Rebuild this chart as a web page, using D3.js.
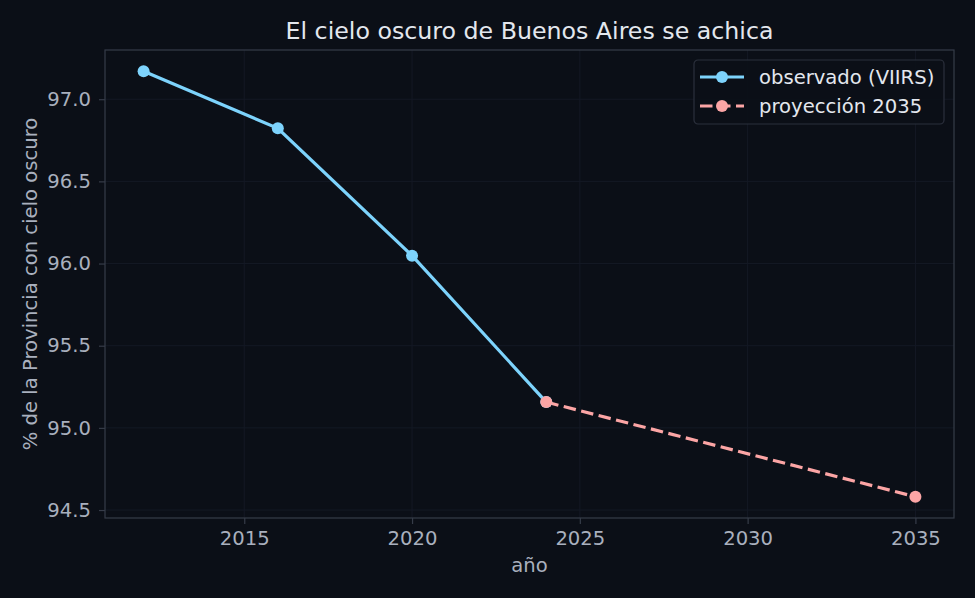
<!DOCTYPE html>
<html>
<head>
<meta charset="utf-8">
<script src="https://cdn.jsdelivr.net/npm/d3@7"></script>
<style>
  html, body { margin: 0; padding: 0; background: #0b0f17; }
  svg { display: block; font-family: "DejaVu Sans", sans-serif; }
</style>
</head>
<body>
<div id="chart"></div>
<script>
// data
var obsYears = [2012, 2016, 2020, 2024];
var obsValues = [97.17, 96.823, 96.048, 95.157];
var projYears = [2024, 2035];
var projValues = [95.157, 94.581];
var xTicks = [2015, 2020, 2025, 2030, 2035];
var yTicks = [94.5, 95.0, 95.5, 96.0, 96.5, 97.0];
var legendLabels = ["observado (VIIRS)", "proyección 2035"];

var W = 975, H = 598;
var margin = { top: 50, right: 21, bottom: 80, left: 105 },
    width = W - margin.left - margin.right,
    height = H - margin.top - margin.bottom;

var bg = "#0b0f17", gridCol = "#141925", spineCol = "#363c49",
    tickCol = "#a9b0be", textCol = "#e3e7ee",
    blue = "#7dd3fc", pink = "#fca5a5";
var fs = "19.6px";

var svg = d3.select("#chart").append("svg")
    .attr("width", W)
    .attr("height", H);

svg.append("rect").attr("width", W).attr("height", H).attr("fill", bg);

var g = svg.append("g")
    .attr("transform", "translate(" + margin.left + "," + margin.top + ")");

// domains with 5% padding like matplotlib
var allX = obsYears.concat(projYears), allY = obsValues.concat(projValues);
var xe = d3.extent(allX), ye = d3.extent(allY);
var xp = (xe[1] - xe[0]) * 0.05, yp = (ye[1] - ye[0]) * 0.05;

var x = d3.scaleLinear().domain([xe[0] - xp, xe[1] + xp]).range([0, width]);
var y = d3.scaleLinear().domain([ye[0] - yp, ye[1] + yp]).range([height, 0]);

// grid
g.append("g").selectAll("line").data(xTicks).enter().append("line")
    .attr("x1", d => x(d)).attr("x2", d => x(d))
    .attr("y1", 0).attr("y2", height)
    .attr("stroke", gridCol).attr("stroke-width", 1);
g.append("g").selectAll("line").data(yTicks).enter().append("line")
    .attr("y1", d => y(d)).attr("y2", d => y(d))
    .attr("x1", 0).attr("x2", width)
    .attr("stroke", gridCol).attr("stroke-width", 1);

// axes
var xAxis = g.append("g")
    .attr("transform", "translate(0," + height + ")")
    .call(d3.axisBottom(x).tickValues(xTicks).tickFormat(d3.format("d")).tickSize(6).tickPadding(7.5));
var yAxis = g.append("g")
    .call(d3.axisLeft(y).tickValues(yTicks).tickFormat(d3.format(".1f")).tickSize(6).tickPadding(8));

[xAxis, yAxis].forEach(function(a) {
  a.select(".domain").remove();
  a.selectAll("line").attr("stroke", spineCol).attr("stroke-width", 1.2);
  a.selectAll("text").attr("fill", tickCol).style("font-size", fs)
    .style("font-family", "DejaVu Sans, sans-serif");
});

// frame
g.append("rect")
    .attr("width", width).attr("height", height)
    .attr("fill", "none").attr("stroke", spineCol).attr("stroke-width", 1.2);

// lines
var line = d3.line().x(d => x(d[0])).y(d => y(d[1]));
var obs = d3.zip(obsYears, obsValues), proj = d3.zip(projYears, projValues);

g.append("path").datum(proj)
    .attr("d", line).attr("fill", "none")
    .attr("stroke", pink).attr("stroke-width", 3.2)
    .attr("stroke-dasharray", "12.5,5.5");
g.append("path").datum(obs)
    .attr("d", line).attr("fill", "none")
    .attr("stroke", blue).attr("stroke-width", 3.2);

g.selectAll(".obs-pt").data(obs).enter().append("circle")
    .attr("class", "obs-pt")
    .attr("cx", d => x(d[0])).attr("cy", d => y(d[1]))
    .attr("r", 6).attr("fill", blue);
g.selectAll(".proj-pt").data(proj).enter().append("circle")
    .attr("class", "proj-pt")
    .attr("cx", d => x(d[0])).attr("cy", d => y(d[1]))
    .attr("r", 6).attr("fill", pink);

// titles
svg.append("text")
    .attr("x", margin.left + width / 2).attr("y", 38.5)
    .attr("text-anchor", "middle").attr("fill", textCol)
    .style("font-size", "23.7px")
    .text("El cielo oscuro de Buenos Aires se achica");
svg.append("text")
    .attr("x", margin.left + width / 2).attr("y", 572)
    .attr("text-anchor", "middle").attr("fill", tickCol)
    .style("font-size", fs)
    .text("año");
svg.append("text")
    .attr("transform", "translate(37," + (margin.top + height / 2) + ") rotate(-90)")
    .attr("text-anchor", "middle").attr("fill", tickCol)
    .style("font-size", fs)
    .text("% de la Provincia con cielo oscuro");

// legend
var leg = svg.append("g").attr("transform", "translate(694,60)");
leg.append("rect")
    .attr("width", 250).attr("height", 64).attr("rx", 4)
    .attr("fill", bg).attr("fill-opacity", 0.9)
    .attr("stroke", "#2b303c").attr("stroke-width", 1.2);
var items = [
  { label: legendLabels[0], color: blue, dash: null },
  { label: legendLabels[1], color: pink, dash: "12.5,5.5" }
];
var rows = leg.selectAll(".row").data(items).enter().append("g")
    .attr("transform", (d, i) => "translate(0," + (17 + i * 29) + ")");
rows.append("line")
    .attr("x1", 6).attr("x2", 50)
    .attr("stroke", d => d.color).attr("stroke-width", 3.2)
    .attr("stroke-dasharray", d => d.dash);
rows.append("circle")
    .attr("cx", 28).attr("r", 6).attr("fill", d => d.color);
rows.append("text")
    .attr("x", 65).attr("y", 7)
    .attr("fill", textCol).style("font-size", fs)
    .text(d => d.label);
</script>
</body>
</html>
